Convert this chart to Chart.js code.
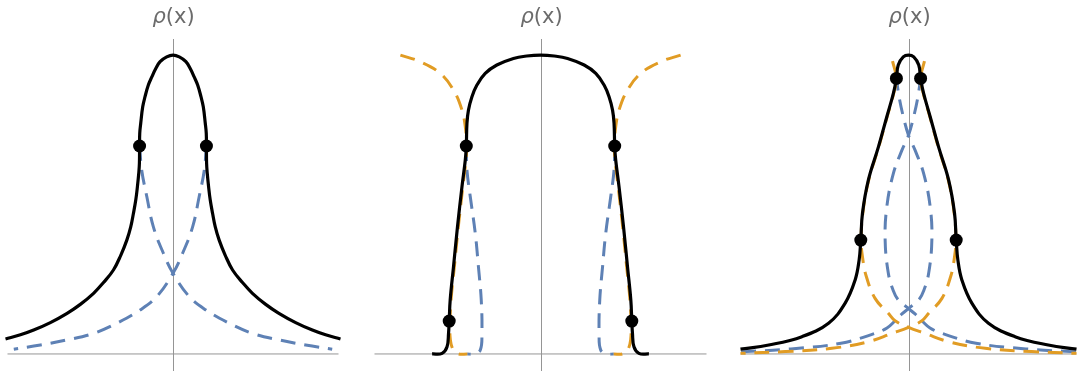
<!DOCTYPE html>
<html>
<head>
<meta charset="utf-8">
<script src="https://cdn.jsdelivr.net/npm/chart.js@4.4.1/dist/chart.umd.min.js"></script>
<style>
  html, body { margin: 0; padding: 0; background: #fff; }
  #wrap { position: relative; width: 1084px; height: 379px; }
  canvas { position: absolute; top: 0; }
</style>
</head>
<body>
<div id="wrap">
  <canvas id="panel1" width="344" height="379" style="left:1px"></canvas>
  <canvas id="panel2" width="345" height="379" style="left:368px"></canvas>
  <canvas id="panel3" width="349" height="379" style="left:734px"></canvas>
</div>
<script>
// values, [x, rho], x scaled to -1..1 per panel
const p1Black = [[-1.012,0.050],[-0.922,0.064],[-0.842,0.080],[-0.741,0.105],[-0.640,0.136],[-0.560,0.166],[-0.480,0.203],[-0.420,0.239],[-0.360,0.281],[-0.315,0.331],[-0.279,0.381],[-0.255,0.426],[-0.239,0.471],[-0.225,0.515],[-0.215,0.560],[-0.207,0.604],[-0.203,0.638],[-0.202,0.696],[-0.201,0.738],[-0.195,0.772],[-0.183,0.827],[-0.169,0.861],[-0.149,0.900],[-0.128,0.927],[-0.104,0.955],[-0.078,0.978],[-0.038,0.994],[0,1.0],
  [0.038,0.994],[0.078,0.978],[0.104,0.955],[0.128,0.927],[0.149,0.900],[0.169,0.861],[0.183,0.827],[0.195,0.772],[0.201,0.738],[0.202,0.696],[0.203,0.638],[0.207,0.604],[0.215,0.560],[0.225,0.515],[0.239,0.471],[0.255,0.426],[0.279,0.381],[0.315,0.331],[0.360,0.281],[0.420,0.239],[0.480,0.203],[0.560,0.166],[0.640,0.136],[0.741,0.105],[0.842,0.080],[0.922,0.064],[1.012,0.050]];
const p1BlueA = [[-0.202,0.696],[-0.189,0.615],[-0.158,0.526],[-0.119,0.426],[-0.058,0.337],[0,0.270],[0.098,0.192],[0.199,0.147],[0.339,0.103],[0.480,0.069],[0.641,0.047],[0.801,0.030],[0.962,0.016]];
const p1BlueB = [[0.202,0.696],[0.189,0.615],[0.158,0.526],[0.119,0.426],[0.058,0.337],[0,0.270],[-0.098,0.192],[-0.199,0.147],[-0.339,0.103],[-0.480,0.069],[-0.641,0.047],[-0.801,0.030],[-0.962,0.016]];
const p1Dots = [[-0.202,0.696],[0.202,0.696]];

const p2Black = [[-0.653,0],[-0.593,0.002],[-0.563,0.024],[-0.554,0.069],[-0.550,0.110],[-0.544,0.181],[-0.524,0.292],[-0.500,0.426],[-0.473,0.560],[-0.453,0.649],[-0.447,0.696],[-0.443,0.772],[-0.434,0.816],[-0.413,0.861],[-0.383,0.900],[-0.333,0.939],[-0.263,0.967],[-0.163,0.989],[-0.083,0.997],[0,1.0],
  [0.083,0.997],[0.163,0.989],[0.263,0.967],[0.333,0.939],[0.383,0.900],[0.413,0.861],[0.434,0.816],[0.443,0.772],[0.447,0.696],[0.453,0.649],[0.473,0.560],[0.500,0.426],[0.524,0.292],[0.544,0.181],[0.550,0.110],[0.554,0.069],[0.563,0.024],[0.593,0.002],[0.653,0]];
const p2OrangeL = [[-0.844,1.0],[-0.724,0.978],[-0.604,0.939],[-0.524,0.883],[-0.473,0.816],[-0.453,0.760],[-0.445,0.696],[-0.449,0.649],[-0.468,0.560],[-0.495,0.426],[-0.519,0.292],[-0.539,0.181],[-0.545,0.110],[-0.543,0.047],[-0.524,0.012],[-0.495,0],[-0.441,0]];
const p2OrangeR = [[0.844,1.0],[0.724,0.978],[0.604,0.939],[0.524,0.883],[0.473,0.816],[0.453,0.760],[0.445,0.696],[0.449,0.649],[0.468,0.560],[0.495,0.426],[0.519,0.292],[0.539,0.181],[0.545,0.110],[0.543,0.047],[0.524,0.012],[0.495,0],[0.441,0]];
const p2BlueL = [[-0.447,0.696],[-0.443,0.615],[-0.423,0.526],[-0.393,0.404],[-0.374,0.292],[-0.357,0.181],[-0.353,0.069],[-0.363,0.013],[-0.404,0],[-0.441,0]];
const p2BlueR = [[0.447,0.696],[0.443,0.615],[0.423,0.526],[0.393,0.404],[0.374,0.292],[0.357,0.181],[0.353,0.069],[0.363,0.013],[0.404,0],[0.441,0]];
const p2Dots = [[-0.550,0.110],[-0.447,0.696],[0.447,0.696],[0.550,0.110]];

const p3Black = [[-1.0,0.016],[-0.832,0.030],[-0.634,0.058],[-0.476,0.103],[-0.377,0.170],[-0.318,0.247],[-0.294,0.314],[-0.284,0.381],[-0.274,0.471],[-0.239,0.582],[-0.179,0.693],[-0.129,0.794],[-0.090,0.872],[-0.072,0.922],[-0.061,0.967],[-0.031,0.994],[0,1.0],
  [0.031,0.994],[0.061,0.967],[0.072,0.922],[0.090,0.872],[0.129,0.794],[0.179,0.693],[0.239,0.582],[0.274,0.471],[0.284,0.381],[0.294,0.314],[0.318,0.247],[0.377,0.170],[0.476,0.103],[0.634,0.058],[0.832,0.030],[1.0,0.016]];
const p3BlueL = [[-0.997,0.007],[-0.699,0.017],[-0.402,0.036],[-0.199,0.069],[-0.128,0.087],[-0.080,0.111],[-0.039,0.134],[0,0.152],[0.061,0.181],[0.092,0.214],[0.120,0.270],[0.139,0.381],[0.129,0.493],[0.090,0.604],[0.039,0.682],[0,0.732],[-0.033,0.799],[-0.056,0.860],[-0.072,0.922]];
const p3BlueR = [[0.997,0.007],[0.699,0.017],[0.402,0.036],[0.199,0.069],[0.128,0.087],[0.080,0.111],[0.039,0.134],[0,0.152],[-0.061,0.181],[-0.092,0.214],[-0.120,0.270],[-0.139,0.381],[-0.129,0.493],[-0.090,0.604],[-0.039,0.682],[0,0.732],[0.033,0.799],[0.056,0.860],[0.072,0.922]];
const p3OrangeL = [[-0.095,0.980],[-0.072,0.922],[-0.088,0.872],[-0.127,0.794],[-0.177,0.693],[-0.237,0.582],[-0.272,0.471],[-0.282,0.381],[-0.273,0.321],[-0.252,0.261],[-0.199,0.186],[-0.120,0.136],[-0.080,0.111],[0,0.089],[0.098,0.069],[0.239,0.041],[0.456,0.019],[0.733,0.008],[1.0,0.002]];
const p3OrangeR = [[0.095,0.980],[0.072,0.922],[0.088,0.872],[0.127,0.794],[0.177,0.693],[0.237,0.582],[0.272,0.471],[0.282,0.381],[0.273,0.321],[0.252,0.261],[0.199,0.186],[0.120,0.136],[0.080,0.111],[0,0.089],[-0.098,0.069],[-0.239,0.041],[-0.456,0.019],[-0.733,0.008],[-1.0,0.002]];
const p3Dots = [[-0.284,0.381],[-0.072,0.922],[0.072,0.922],[0.284,0.381]];

const axisLabel = 'ρ';
const axisLabelArg = '(x)';

const BLUE = '#5e81b5';
const ORANGE = '#e19c24';

function pts(arr) {
  return arr.map(function (p) { return { x: p[0], y: p[1] }; });
}

function dashed(arr, color) {
  return {
    data: pts(arr),
    showLine: true,
    borderColor: color,
    borderWidth: 3,
    borderDash: [15, 9],
    pointRadius: 0,
    tension: 0.4,
    clip: 6
  };
}

// axes through the origin and the rho(x) label over the vertical one
const axesPlugin = {
  id: 'axesPlugin',
  beforeDatasetsDraw: function (chart) {
    const ctx = chart.ctx;
    const area = chart.chartArea;
    const x0 = Math.round(chart.scales.x.getPixelForValue(0)) + 0.5;
    const y0 = chart.scales.y.getPixelForValue(0);
    ctx.save();
    ctx.strokeStyle = '#959595';
    ctx.lineWidth = 1;
    ctx.beginPath();
    ctx.moveTo(x0, area.top);
    ctx.lineTo(x0, area.bottom);
    ctx.moveTo(area.left, y0);
    ctx.lineTo(area.right, y0);
    ctx.stroke();

    ctx.fillStyle = '#6b6b6b';
    ctx.textBaseline = 'alphabetic';
    ctx.font = 'italic 21px "DejaVu Sans"';
    const w1 = ctx.measureText(axisLabel).width;
    ctx.font = '21px "DejaVu Sans"';
    const w2 = ctx.measureText(axisLabelArg).width;
    const start = x0 - (w1 + w2) / 2;
    ctx.font = 'italic 21px "DejaVu Sans"';
    ctx.fillText(axisLabel, start, 23);
    ctx.font = '21px "DejaVu Sans"';
    ctx.fillText(axisLabelArg, start + w1, 23);
    ctx.restore();
  }
};

function makePanel(id, dots, black, dashedSets) {
  const ctx = document.getElementById(id).getContext('2d');
  const datasets = [
    {
      data: pts(dots),
      showLine: false,
      pointRadius: 6.5,
      pointBackgroundColor: '#000',
      pointBorderWidth: 0
    },
    {
      data: pts(black),
      showLine: true,
      borderColor: '#000',
      borderWidth: 3.2,
      pointRadius: 0,
      tension: 0.4,
      clip: 6
    }
  ].concat(dashedSets);

  const config = {
    type: 'scatter',
    data: { datasets: datasets },
    options: {
      responsive: false,
      animation: false,
      layout: { padding: { top: 39, bottom: 8, left: 6, right: 6 } },
      scales: {
        x: { type: 'linear', min: -1, max: 1, display: false },
        y: { type: 'linear', min: -0.057, max: 1.054, display: false }
      },
      plugins: {
        legend: { display: false },
        tooltip: { enabled: false }
      }
    },
    plugins: [axesPlugin]
  };
  return new Chart(ctx, config);
}

document.addEventListener('DOMContentLoaded', function () {
  makePanel('panel1', p1Dots, p1Black, [dashed(p1BlueA, BLUE), dashed(p1BlueB, BLUE)]);
  makePanel('panel2', p2Dots, p2Black, [
    dashed(p2OrangeL, ORANGE), dashed(p2OrangeR, ORANGE),
    dashed(p2BlueL, BLUE), dashed(p2BlueR, BLUE)
  ]);
  makePanel('panel3', p3Dots, p3Black, [
    dashed(p3OrangeL, ORANGE), dashed(p3OrangeR, ORANGE),
    dashed(p3BlueL, BLUE), dashed(p3BlueR, BLUE)
  ]);
});
</script>
</body>
</html>
